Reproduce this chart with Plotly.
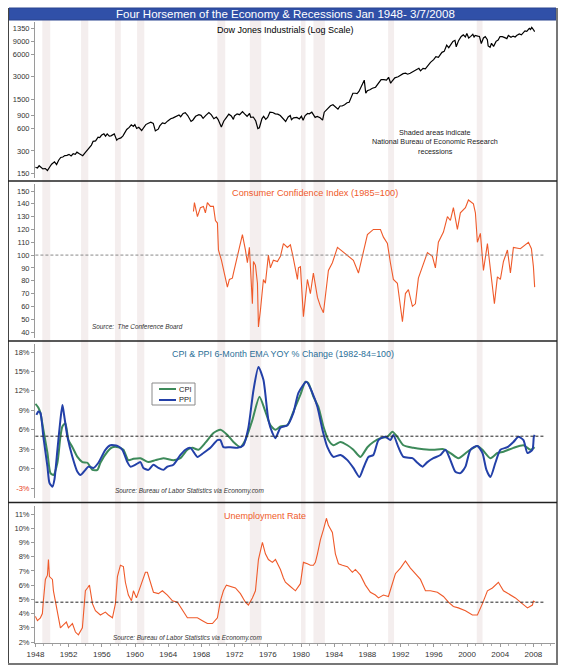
import plotly.graph_objects as go

W, H = 563, 668

# ---------------- data ----------------
rec_start = [1948.83, 1953.50, 1957.58, 1960.25, 1969.92, 1973.83, 1980.00, 1981.50, 1990.50, 2001.17]
rec_end = [1949.79, 1954.37, 1958.29, 1961.12, 1970.87, 1975.21, 1980.54, 1982.87, 1991.21, 2001.87]

dow_year = [1948.00, 1948.25, 1948.45, 1948.70, 1948.90, 1949.20, 1949.45, 1949.70, 1949.95, 1950.30,
            1950.55, 1950.80, 1951.05, 1951.30, 1951.55, 1951.80, 1952.05, 1952.30, 1952.55, 1952.80,
            1953.00, 1953.30, 1953.70, 1953.95, 1954.25, 1954.50, 1954.75, 1954.95, 1955.25, 1955.55,
            1955.75, 1955.95, 1956.25, 1956.45, 1956.65, 1956.90, 1957.10, 1957.50, 1957.80, 1957.95,
            1958.30, 1958.55, 1958.80, 1959.00, 1959.30, 1959.55, 1959.80, 1959.98, 1960.20, 1960.45,
            1960.80, 1960.98, 1961.30, 1961.55, 1961.90, 1962.20, 1962.45, 1962.80, 1962.98, 1963.30,
            1963.60, 1963.95, 1964.30, 1964.60, 1964.95, 1965.30, 1965.50, 1965.80, 1966.05, 1966.35,
            1966.75, 1966.98, 1967.30, 1967.70, 1967.95, 1968.20, 1968.50, 1968.90, 1969.20, 1969.50,
            1969.80, 1970.00, 1970.40, 1970.70, 1970.98, 1971.30, 1971.60, 1971.85, 1971.98, 1972.30,
            1972.60, 1972.95, 1973.20, 1973.50, 1973.80, 1973.95, 1974.25, 1974.55, 1974.80, 1974.98,
            1975.30, 1975.50, 1975.75, 1975.98, 1976.25, 1976.60, 1976.90, 1977.20, 1977.50, 1977.85,
            1978.15, 1978.45, 1978.70, 1978.85, 1979.10, 1979.50, 1979.80, 1980.05, 1980.25, 1980.50,
            1980.80, 1981.00, 1981.30, 1981.70, 1981.95, 1982.30, 1982.60, 1982.80, 1983.00, 1983.30,
            1983.55, 1983.85, 1984.20, 1984.45, 1984.70, 1984.95, 1985.25, 1985.55, 1985.80, 1985.98,
            1986.25, 1986.55, 1986.75, 1986.98, 1987.30, 1987.62, 1987.80, 1987.98, 1988.30, 1988.60,
            1988.98, 1989.30, 1989.65, 1989.98, 1990.30, 1990.55, 1990.80, 1990.98, 1991.30, 1991.70,
            1991.98, 1992.30, 1992.60, 1992.85, 1993.15, 1993.50, 1993.98, 1994.20, 1994.40, 1994.70,
            1994.98, 1995.30, 1995.60, 1995.98, 1996.25, 1996.55, 1996.98, 1997.25, 1997.55, 1997.80,
            1997.98, 1998.30, 1998.55, 1998.70, 1998.98, 1999.30, 1999.55, 1999.80, 1999.98, 2000.20,
            2000.45, 2000.70, 2000.85, 2000.98, 2001.30, 2001.50, 2001.72, 2001.98, 2002.20, 2002.45,
            2002.55, 2002.78, 2002.95, 2003.20, 2003.50, 2003.75, 2003.98, 2004.25, 2004.55, 2004.80,
            2004.98, 2005.30, 2005.55, 2005.80, 2005.98, 2006.30, 2006.55, 2006.80, 2006.98, 2007.20,
            2007.50, 2007.65, 2007.80, 2007.95, 2008.05, 2008.15]
dow_val = [181, 177, 190, 178, 172, 174, 163, 181, 199, 214,
           197, 225, 245, 249, 260, 262, 270, 257, 275, 270,
           289, 275, 259, 281, 310, 335, 360, 404, 410, 460,
           455, 488, 511, 475, 510, 475, 480, 510, 420, 436,
           450, 480, 550, 584, 624, 675, 643, 679, 602, 625,
           566, 615, 680, 705, 731, 706, 561, 590, 652, 718,
           700, 762, 815, 838, 874, 918, 868, 961, 985, 900,
           750, 785, 880, 925, 905, 825, 900, 985, 920, 815,
           860, 800, 630, 760, 840, 940, 890, 800, 890, 950,
           925, 1020, 950, 880, 960, 850, 860, 760, 600, 616,
           820, 880, 800, 850, 1000, 990, 950, 940, 900, 820,
           750, 860, 900, 790, 840, 850, 810, 880, 780, 900,
           960, 950, 1000, 850, 875, 840, 780, 1000, 1060, 1170,
           1220, 1260, 1160, 1100, 1210, 1210, 1260, 1340, 1360, 1550,
           1800, 1800, 1780, 1900, 2300, 2700, 1800, 1940, 2000, 2100,
           2170, 2400, 2750, 2750, 2700, 2950, 2450, 2630, 2900, 3000,
           3170, 3300, 3350, 3250, 3350, 3500, 3750, 3900, 3600, 3900,
           3830, 4300, 4700, 5100, 5600, 5500, 6400, 6600, 8000, 7400,
           7900, 9000, 9300, 7600, 9200, 10500, 11000, 10300, 11500, 10000,
           10500, 11200, 10300, 10800, 10600, 10500, 8400, 10000, 10400, 9500,
           7800, 7500, 8500, 7700, 9000, 9400, 10450, 10400, 10100, 9800,
           10800, 10200, 10600, 10300, 10800, 11300, 11000, 12000, 12450, 12300,
           13500, 13000, 13900, 13200, 12600, 12200]
dow_tickvals = [150, 300, 600, 900, 1500, 3000, 6000, 9000, 13500]
dow_ticktext = ["150", "300", "600", "900", "1500", "3000", "6000", "9000", "1350"]

cci_year = [1967.04, 1967.16, 1967.52, 1967.88, 1968.24, 1968.48, 1968.72, 1969.08, 1969.45, 1969.69,
            1969.93, 1970.05, 1970.41, 1970.65, 1970.89, 1971.13, 1971.37, 1971.73, 1971.86, 1972.34,
            1972.58, 1972.94, 1973.30, 1973.54, 1973.78, 1974.02, 1974.14, 1974.27, 1974.51, 1974.75,
            1974.87, 1975.11, 1975.47, 1975.71, 1976.07, 1976.31, 1976.67, 1977.16, 1977.52, 1977.88,
            1978.36, 1978.72, 1979.00, 1979.57, 1979.69, 1979.93, 1980.29, 1980.77, 1981.13, 1981.49,
            1981.98, 1982.34, 1982.70, 1983.30, 1983.78, 1984.39, 1985.11, 1985.59, 1986.31, 1986.92,
            1987.52, 1988.00, 1988.72, 1989.57, 1989.93, 1990.41, 1990.77, 1991.13, 1991.61, 1992.22,
            1992.58, 1992.94, 1993.42, 1993.78, 1994.14, 1994.63, 1995.23, 1995.83, 1996.19, 1996.55,
            1997.16, 1997.64, 1998.00, 1998.36, 1998.84, 1999.20, 1999.81, 2000.17, 2000.77, 2001.01,
            2001.25, 2001.61, 2001.98, 2002.46, 2002.94, 2003.30, 2003.66, 2004.02, 2004.39, 2004.87,
            2005.23, 2005.59, 2006.43, 2007.04, 2007.40, 2007.76, 2008.00, 2008.15]
cci_val = [134, 141, 130, 137, 138, 133, 141, 138, 138, 127,
           125, 104, 96, 88, 83, 75, 81, 82, 86, 99,
           108, 116, 104, 94, 106, 70, 62, 95, 92, 78,
           44, 57, 81, 78, 100, 90, 96, 95, 99, 109,
           106, 108, 100, 81, 90, 91, 52, 81, 70, 86,
           67, 60, 55, 88, 94, 106, 102, 100, 96, 86,
           102, 116, 120, 120, 114, 109, 94, 81, 78, 48,
           70, 73, 60, 62, 82, 91, 102, 99, 90, 110,
           118, 130, 127, 137, 120, 133, 137, 143, 140, 133,
           110, 117, 88, 109, 83, 62, 83, 81, 95, 104,
           86, 106, 105, 108, 110, 105, 91, 75]

cpi_year = [1948.00, 1948.36, 1948.60, 1948.96, 1949.45, 1949.81, 1950.17, 1950.65, 1951.01, 1951.25,
            1951.61, 1951.98, 1952.46, 1953.06, 1953.66, 1954.27, 1954.87, 1955.47, 1955.83, 1956.67,
            1957.28, 1958.00, 1958.60, 1959.20, 1959.81, 1960.65, 1961.61, 1962.46, 1963.42, 1964.63,
            1965.47, 1966.31, 1966.92, 1967.64, 1968.48, 1969.45, 1970.29, 1971.13, 1971.86, 1972.70,
            1973.30, 1974.14, 1974.99, 1975.71, 1976.31, 1976.92, 1977.52, 1978.36, 1979.08, 1979.93,
            1980.53, 1980.89, 1981.49, 1982.10, 1982.70, 1983.30, 1983.90, 1984.75, 1985.59, 1986.31,
            1987.16, 1988.00, 1988.72, 1989.57, 1990.41, 1991.01, 1991.61, 1992.34, 1993.54, 1994.75,
            1995.95, 1997.16, 1998.00, 1998.96, 2000.05, 2001.25, 2001.86, 2002.82, 2003.66, 2004.39,
            2005.59, 2006.80, 2007.64, 2008.15]
cpi_val = [10.0, 9.4, 8.6, 6.0, 2.4, -0.7, -1.0, 0.9, 4.9, 6.5,
           7.0, 4.4, 3.3, 1.8, 1.0, 0.9, -0.2, -0.2, 0.9, 2.6,
           3.3, 3.3, 2.9, 1.3, 1.5, 1.6, 1.0, 1.3, 1.6, 1.3,
           1.6, 2.9, 3.2, 2.9, 4.0, 5.5, 6.0, 5.2, 4.1, 3.3,
           4.4, 7.5, 11.1, 8.8, 6.7, 6.0, 6.5, 6.7, 8.8, 11.4,
           13.4, 13.2, 11.1, 9.5, 6.5, 4.4, 3.6, 4.1, 3.6, 2.9,
           1.8, 3.3, 4.1, 4.7, 4.9, 5.7, 4.9, 3.6, 3.2, 3.0,
           2.9, 3.0, 2.4, 1.6, 2.6, 3.5, 2.9, 1.6, 2.4, 2.6,
           3.2, 3.6, 2.9, 3.3]

ppi_year = [1948.12, 1948.36, 1948.60, 1948.96, 1949.45, 1949.69, 1950.05, 1950.29, 1950.65, 1951.01,
            1951.25, 1951.37, 1951.86, 1952.46, 1953.06, 1953.42, 1954.02, 1954.39, 1954.99, 1955.59,
            1956.43, 1957.04, 1957.88, 1958.48, 1959.08, 1959.45, 1960.05, 1960.65, 1961.01, 1961.61,
            1962.22, 1962.82, 1963.42, 1963.90, 1964.63, 1965.47, 1966.07, 1966.67, 1967.52, 1968.24,
            1969.08, 1969.93, 1970.29, 1970.65, 1971.49, 1972.34, 1973.06, 1973.66, 1974.27, 1974.87,
            1975.47, 1976.07, 1976.55, 1976.92, 1977.52, 1978.36, 1979.08, 1979.69, 1980.65, 1981.37,
            1981.98, 1982.58, 1983.18, 1983.90, 1984.75, 1985.59, 1986.31, 1987.04, 1987.52, 1988.12,
            1988.72, 1989.33, 1990.17, 1990.77, 1991.13, 1991.73, 1992.34, 1993.42, 1994.02, 1994.63,
            1995.23, 1995.95, 1996.80, 1997.40, 1998.00, 1998.60, 1999.20, 1999.81, 2000.41, 2001.25,
            2001.86, 2002.34, 2002.82, 2003.42, 2004.02, 2004.87, 2005.59, 2006.19, 2006.80, 2007.28,
            2007.88, 2008.05, 2008.15]
ppi_val = [8.3, 8.8, 8.6, 4.9, 0.3, -2.2, -2.8, -1.7, 2.9, 7.5,
           9.8, 9.0, 4.9, 1.8, -0.5, -1.0, -0.2, 0.3, 0.1, 0.9,
           2.9, 3.6, 3.5, 2.9, 1.0, 0.3, 0.6, 1.0, 0.1, -0.2,
           0.6, 0.1, -0.2, 0.3, 0.6, 2.1, 2.9, 3.2, 1.8, 2.4,
           3.2, 4.4, 4.4, 3.3, 3.3, 3.2, 3.6, 6.3, 12.1, 15.7,
           13.7, 7.5, 5.5, 4.7, 6.3, 6.7, 8.6, 11.7, 13.4, 11.7,
           9.5, 6.0, 3.3, 1.8, 2.1, 1.3, 0.1, -1.3, 0.1, 1.8,
           2.1, 4.4, 4.9, 4.4, 5.2, 3.3, 1.8, 1.6, 0.9, 0.3,
           1.0, 1.6, 2.1, 2.9, 1.3, -0.5, -0.7, 0.3, 2.9, 3.5,
           2.4, -0.2, -1.3, 0.9, 2.9, 3.3, 4.1, 4.9, 4.4, 2.4,
           2.9, 4.9, 5.2]

unemp_year = [1948.00, 1948.24, 1948.60, 1948.84, 1948.96, 1949.20, 1949.45, 1949.57, 1949.69, 1950.05,
              1950.17, 1950.65, 1951.01, 1951.37, 1951.73, 1951.98, 1952.46, 1952.82, 1953.18, 1953.66,
              1954.02, 1954.27, 1954.51, 1954.87, 1955.23, 1955.83, 1956.43, 1956.80, 1957.28, 1957.64,
              1957.88, 1958.24, 1958.60, 1958.84, 1959.20, 1959.57, 1959.81, 1960.17, 1960.41, 1960.89,
              1961.25, 1961.49, 1961.86, 1962.22, 1962.82, 1963.30, 1963.90, 1964.51, 1965.11, 1965.71,
              1966.31, 1966.92, 1967.52, 1968.12, 1968.72, 1969.33, 1969.93, 1970.29, 1970.65, 1971.01,
              1971.49, 1972.10, 1972.70, 1973.30, 1973.66, 1974.14, 1974.51, 1974.87, 1975.35, 1975.71,
              1976.07, 1976.55, 1976.92, 1977.52, 1977.88, 1978.12, 1978.72, 1979.33, 1979.93, 1980.29,
              1980.77, 1981.13, 1981.49, 1981.73, 1981.98, 1982.34, 1982.70, 1983.06, 1983.30, 1983.78,
              1984.14, 1984.51, 1984.99, 1985.59, 1986.19, 1986.55, 1987.16, 1987.76, 1988.36, 1988.96,
              1989.33, 1989.93, 1990.53, 1991.01, 1991.37, 1991.98, 1992.58, 1993.18, 1993.78, 1994.39,
              1994.99, 1995.59, 1996.43, 1997.16, 1997.76, 1998.36, 1998.96, 1999.81, 2000.65, 2001.25,
              2001.86, 2002.46, 2003.06, 2003.78, 2004.39, 2004.99, 2005.83, 2006.43, 2007.28, 2007.88,
              2008.00, 2008.15]
unemp_val = [3.8, 3.5, 3.7, 4.0, 4.9, 6.4, 6.7, 7.8, 6.6, 6.4,
             5.6, 4.2, 3.0, 3.2, 3.4, 3.0, 3.3, 2.7, 2.5, 3.0,
             5.6, 5.8, 6.0, 4.7, 4.2, 3.9, 4.1, 3.9, 3.7, 4.7,
             6.6, 7.4, 7.3, 6.2, 5.3, 4.9, 5.6, 5.1, 5.5, 6.4,
             6.9, 6.9, 6.2, 5.5, 5.4, 5.6, 5.3, 4.9, 4.8, 4.2,
             3.7, 3.7, 3.7, 3.5, 3.3, 3.3, 3.7, 4.9, 5.6, 6.0,
             5.9, 5.8, 5.4, 4.8, 4.6, 5.1, 5.6, 7.8, 9.0, 8.2,
             7.8, 7.6, 7.8, 7.1, 6.5, 6.2, 5.9, 5.6, 6.1, 7.6,
             7.5, 7.4, 7.4, 7.6, 8.2, 9.2, 9.9, 10.7, 10.2, 9.7,
             8.2, 7.5, 7.4, 7.3, 6.9, 7.1, 6.7, 6.0, 5.5, 5.3,
             5.1, 5.3, 5.2, 6.1, 6.8, 7.2, 7.7, 7.2, 6.8, 6.4,
             5.6, 5.6, 5.5, 5.2, 4.8, 4.5, 4.4, 4.2, 3.9, 3.9,
             4.7, 5.6, 5.8, 6.2, 5.6, 5.4, 5.1, 4.8, 4.4, 4.6,
             4.9, 4.8]

cci_ref = 100
cpi_ref = 5
unemp_ref = 4.8

x_ticks = list(range(1948, 2009, 4))

# ---------------- styling helpers ----------------
def xp(px):
    return px / W

def yp(py):
    return 1 - py / H

PXYR = 8.3
X0_PX, X1_PX = 35, 555
X_START = 1947.95
X_END = X_START + (X1_PX - X0_PX) / PXYR

FONT = "Liberation Sans, Arial, sans-serif"
ORANGE = "#ef5a2a"
GREEN = "#3d8a5a"
BLUE = "#2340a8"
TICKCOL = "#333333"

fig = go.Figure()

fig.add_trace(go.Scatter(x=dow_year, y=dow_val, mode="lines", line=dict(color="black", width=1.2),
                         xaxis="x", yaxis="y", showlegend=False))
fig.add_trace(go.Scatter(x=cci_year, y=cci_val, mode="lines", line=dict(color=ORANGE, width=1.1),
                         xaxis="x", yaxis="y2", showlegend=False))
fig.add_trace(go.Scatter(x=cpi_year, y=cpi_val, mode="lines", line=dict(color=GREEN, width=2, shape="spline", smoothing=0.6),
                         xaxis="x", yaxis="y3", showlegend=False))
fig.add_trace(go.Scatter(x=ppi_year, y=ppi_val, mode="lines", line=dict(color=BLUE, width=2, shape="spline", smoothing=0.6),
                         xaxis="x", yaxis="y3", showlegend=False))
fig.add_trace(go.Scatter(x=unemp_year, y=unemp_val, mode="lines", line=dict(color=ORANGE, width=1.1),
                         xaxis="x", yaxis="y4", showlegend=False))

yaxis_common = dict(anchor="x", showline=True, linecolor="#9a9a9a", linewidth=1, ticks="outside",
                    ticklen=3, tickcolor="#9a9a9a", showgrid=False, zeroline=False, automargin=False,
                    tickfont=dict(family=FONT, size=7.5, color=TICKCOL), fixedrange=True)

# Dow log axis: 150 -> 173.3px, 13500 -> 28.3px
dpd = (173.3 - 28.3) / 1.9542
d_top, d_bot = 22, 178
dow_lo = 2.1761 - (d_bot - 173.3) / dpd
dow_hi = 4.1303 + (28.3 - d_top) / dpd

c_top, c_bot = 184, 338
cpu = (332 - 191) / 110.0
cci_hi = 150 + (191 - c_top) / cpu
cci_lo = 40 - (c_bot - 332) / cpu

p_top, p_bot = 344, 498
ppu = (488 - 352) / 21.0
cpi_hi = 18 + (352 - p_top) / ppu
cpi_lo = -3 - (p_bot - 488) / ppu

u_top, u_bot = 506, 643
upu = (642 - 514) / 9.0
u_hi = 11 + (514 - u_top) / upu
u_lo = 2 - (u_bot - 642) / upu

fig.update_layout(
    template="none",
    width=W, height=H, margin=dict(l=0, r=0, t=0, b=0, pad=0),
    paper_bgcolor="white", plot_bgcolor="rgba(0,0,0,0)",
    showlegend=False,
    xaxis=dict(domain=[xp(X0_PX), xp(X1_PX)], range=[X_START, X_END], anchor="y4",
               tickmode="array", tickvals=x_ticks, ticktext=[str(v) for v in x_ticks],
               ticks="outside", ticklen=3, tickcolor="#9a9a9a", automargin=False,
               minor=dict(dtick=1, tick0=1948, ticks="outside", ticklen=2, tickcolor="#b0b0b0", showgrid=False),
               showline=True, linecolor="#9a9a9a", showgrid=False, zeroline=False,
               tickfont=dict(family=FONT, size=8, color=TICKCOL), fixedrange=True),
    yaxis=dict(domain=[yp(d_bot), yp(d_top)], type="log", range=[dow_lo, dow_hi],
               tickmode="array", tickvals=dow_tickvals, ticktext=dow_ticktext, **yaxis_common),
    yaxis2=dict(domain=[yp(c_bot), yp(c_top)], range=[cci_lo, cci_hi],
                tickmode="array", tickvals=list(range(40, 151, 10)), **yaxis_common),
    yaxis3=dict(domain=[yp(p_bot), yp(p_top)], range=[cpi_lo, cpi_hi],
                tickmode="array", tickvals=[-3, 0, 3, 6, 9, 12, 15, 18],
                ticktext=['<span style="color:#e8401c">-3%</span>', "0%", "3%", "6%", "9%", "12%", "15%", "18%"],
                **yaxis_common),
    yaxis4=dict(domain=[yp(u_bot), yp(u_top)], range=[u_lo, u_hi],
                tickmode="array", tickvals=list(range(2, 12)),
                ticktext=[f"{v}%" for v in range(2, 12)], **yaxis_common),
)

shapes = []
# recession bands
for s, e in zip(rec_start, rec_end):
    shapes.append(dict(type="rect", xref="x", yref="paper", x0=s, x1=e, y0=yp(643), y1=yp(20),
                       fillcolor="#f4eeee", line=dict(width=0), layer="below"))
# dashed reference lines
shapes.append(dict(type="line", xref="x", yref="y2", x0=1948, x1=2009.4, y0=cci_ref, y1=cci_ref,
                   line=dict(color="#888888", width=1, dash="3px,2px")))
shapes.append(dict(type="line", xref="x", yref="y3", x0=1948, x1=2009.4, y0=cpi_ref, y1=cpi_ref,
                   line=dict(color="#222222", width=1, dash="3px,2px")))
shapes.append(dict(type="line", xref="x", yref="y4", x0=1948, x1=2009.4, y0=unemp_ref, y1=unemp_ref,
                   line=dict(color="#222222", width=1, dash="3px,2px")))
# title bar
shapes.append(dict(type="rect", xref="paper", yref="paper", x0=xp(9), x1=xp(556), y0=yp(20), y1=yp(8),
                   fillcolor="#3050a8", line=dict(color="#2a448f", width=1)))
# outer frame
shapes.append(dict(type="line", xref="paper", yref="paper", x0=xp(8.5), x1=xp(8.5), y0=yp(664), y1=yp(8),
                   line=dict(color="#444444", width=1)))
shapes.append(dict(type="line", xref="paper", yref="paper", x0=xp(557), x1=xp(557), y0=yp(664), y1=yp(8),
                   line=dict(color="#777777", width=2)))
shapes.append(dict(type="line", xref="paper", yref="paper", x0=xp(8), x1=xp(558), y0=yp(664), y1=yp(664),
                   line=dict(color="#777777", width=2)))
# panel separators
for sy in [181, 341, 502.5]:
    shapes.append(dict(type="line", xref="paper", yref="paper", x0=xp(8), x1=xp(557), y0=yp(sy), y1=yp(sy),
                       line=dict(color="#222222", width=1.5)))
# legend box
shapes.append(dict(type="rect", xref="paper", yref="paper", x0=xp(152), x1=xp(195), y0=yp(405), y1=yp(383),
                   fillcolor="white", line=dict(color="#8a8a8a", width=1)))
shapes.append(dict(type="line", xref="paper", yref="paper", x0=xp(159), x1=xp(176), y0=yp(389), y1=yp(389),
                   line=dict(color=GREEN, width=2)))
shapes.append(dict(type="line", xref="paper", yref="paper", x0=xp(159), x1=xp(176), y0=yp(400), y1=yp(400),
                   line=dict(color=BLUE, width=2)))
fig.update_layout(shapes=shapes)

def ann(text, px, py, size, color="black", italic=False, anchor="center"):
    t = f"<i>{text}</i>" if italic else text
    return dict(text=t, x=xp(px), y=yp(py), xref="paper", yref="paper", showarrow=False,
                xanchor=anchor, yanchor="middle", font=dict(family=FONT, size=size, color=color))

annotations = [
    ann("Four Horsemen of the Economy &amp; Recessions Jan 1948- 3/7/2008", 285, 14.5, 11.5, "white"),
    ann("Dow Jones Industrials (Log Scale)", 285, 30, 9, "black"),
    ann("Shaded areas indicate", 435, 132, 7.2, "#222222"),
    ann("National Bureau of Economic Research", 435, 142, 7.2, "#222222"),
    ann("recessions", 435, 151, 7.2, "#222222"),
    ann("Consumer Confidence Index (1985=100)", 315, 193, 9.2, ORANGE),
    ann("Source:  The Conference Board", 137, 326, 6.4, "#333333", italic=True),
    ann("CPI &amp; PPI 6-Month EMA YOY % Change (1982-84=100)", 283, 354, 8.9, "#2a6f98"),
    ann("CPI", 177, 389, 7.5, "#222222", anchor="left"),
    ann("PPI", 177, 400, 7.5, "#222222", anchor="left"),
    ann("Source: Bureau of Labor Statistics via Economy.com", 189, 491, 6.4, "#333333", italic=True),
    ann("Unemployment Rate", 265, 516, 9, ORANGE),
    ann("Source: Bureau of Labor Statistics via Economy.com", 187, 638, 6.4, "#333333", italic=True),
]
fig.update_layout(annotations=annotations)

fig.write_html("out.html")
